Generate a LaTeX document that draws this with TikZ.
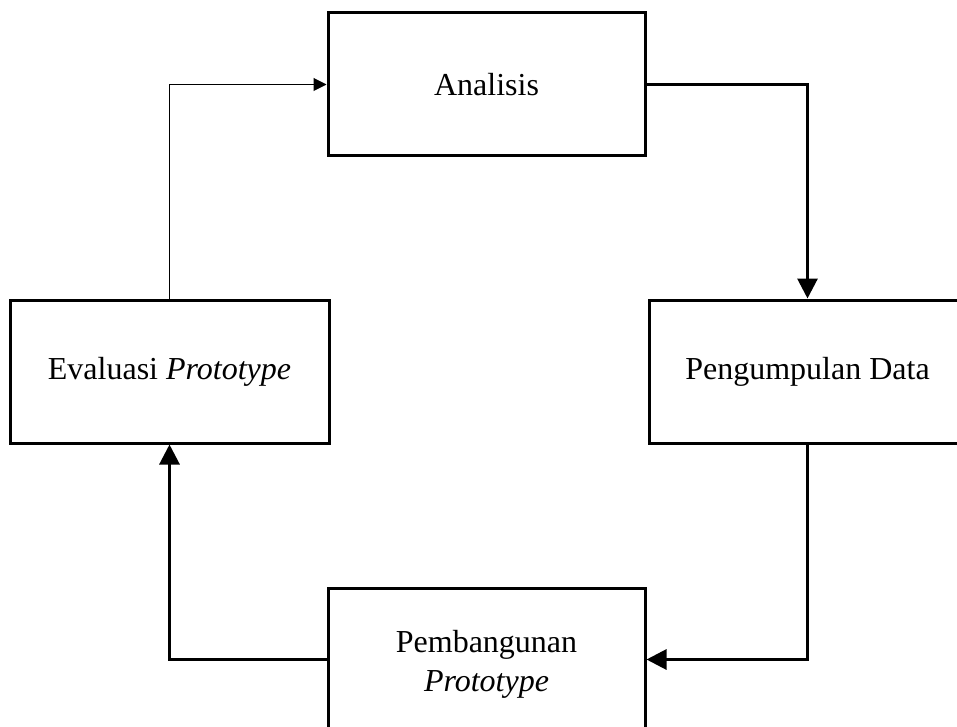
\documentclass[tikz,border=0pt]{standalone}
\usepackage{fontspec}
\setmainfont{Liberation Serif}
\usetikzlibrary{arrows.meta}
\begin{document}
\begin{tikzpicture}[x=1pt,y=-1pt,line join=miter,
  box/.style={draw,line width=3pt,rectangle,minimum width=317pt,minimum height=143pt,inner sep=0pt,align=center,font=\fontsize{32}{39}\selectfont},
  boxtext/.style={inner sep=0pt,align=center,font=\fontsize{32}{39}\selectfont},
  thickarrow/.style={line width=3pt,-{Triangle[length=20pt,width=20pt]}},
  thinarrow/.style={line width=1pt,-{Triangle[length=13pt,width=13pt]}}]
\useasboundingbox (0,0) rectangle (957,727);
\clip (0,0) rectangle (957,727);
\node[box] (ana) at (486.5,84.5) {Analisis};
\node[box] (peng) at (807.5,371.5) {Pengumpulan Data};
\node[box,minimum width=319pt] (eval) at (169.5,371.5) {Evaluasi \textit{Prototype}};
\node[box] (pemb) at (486.5,659.5) {};
\node[boxtext] (pembtxt) at (486.5,664) {Pembangunan\\\textit{Prototype}};
\draw[thickarrow] (ana.east) -| (peng.north);
\draw[thickarrow] (peng.south) |- (pemb.east);
\draw[thickarrow] (pemb.west) -| (eval.south);
\draw[thinarrow] (eval.north) |- (ana.west);
\end{tikzpicture}
\end{document}
